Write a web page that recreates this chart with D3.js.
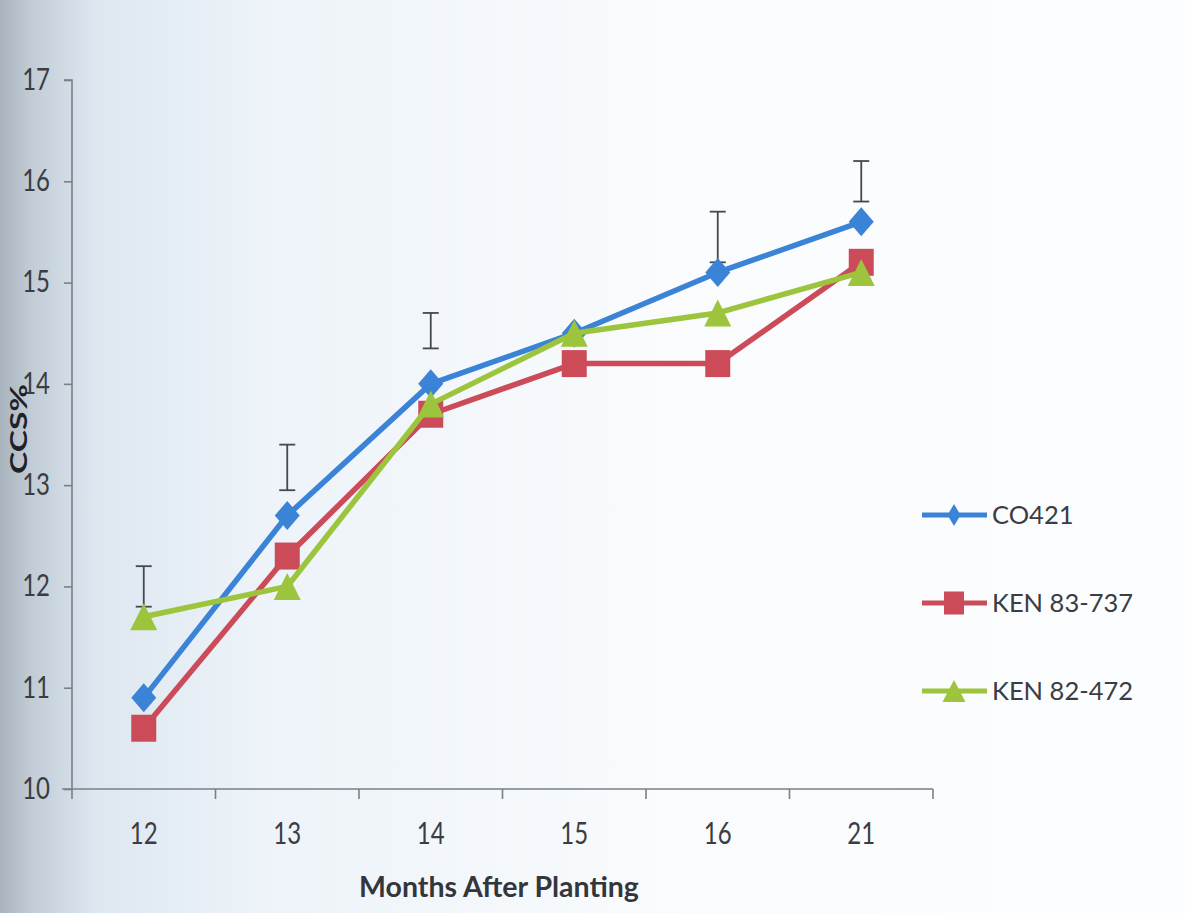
<!DOCTYPE html>
<html>
<head>
<meta charset="utf-8">
<script src="https://cdn.jsdelivr.net/npm/d3@7"></script>
<style>
  html, body { margin: 0; padding: 0; background: #fff; }
  svg { display: block; }
</style>
</head>
<body>
<svg id="chart" width="1185" height="913"></svg>
<script>
// Months after planting (categories on the x axis)
const months = ["12", "13", "14", "15", "16", "21"];
const yTicks = [10, 11, 12, 13, 14, 15, 16, 17];

// CCS% per variety
const seriesNames = ["CO421", "KEN 83-737", "KEN 82-472"];
const co421 = [10.9, 12.7, 14.0, 14.5, 15.1, 15.6];
const ken83737 = [10.6, 12.3, 13.7, 14.2, 14.2, 15.2];
const ken82472 = [11.7, 12.0, 13.8, 14.5, 14.7, 15.1];

// Error bars drawn above the curves (null = none)
const errHigh = [12.2, 13.4, 14.7, null, 15.7, 16.2];
const errLow  = [11.8, 12.95, 14.35, null, 15.2, 15.8];

const colors = ["#3b83d6", "#cc4b59", "#9cc43c"];
const values = [co421, ken83737, ken82472];

// marker outlines, slightly taller than wide
const markerPath = {
  diamond: (w, h) => `M0,${-h / 2}L${w / 2},0L0,${h / 2}L${-w / 2},0Z`,
  square: (w, h) => `M${-w / 2},${-h / 2}H${w / 2}V${h / 2}H${-w / 2}Z`,
  triangle: (w, h) => `M0,${-h / 2}L${w / 2},${h / 2}H${-w / 2}Z`
};
const markerKind = ["diamond", "square", "triangle"];
const markerW = [25, 25, 27];
const markerH = [29, 27, 27];
const legW = [13, 20, 23];
const legH = [22, 23, 22];

const svg = d3.select("#chart");
const W = 1185, H = 913;
const font = "Lato, 'Open Sans', sans-serif";
const stretch = 1.3;

// paper tint: darker toward the left edge
const defs = svg.append("defs");
const grad = defs.append("linearGradient").attr("id", "paper").attr("x1", 0).attr("x2", 1).attr("y1", 0).attr("y2", 0);
grad.append("stop").attr("offset", "0").attr("stop-color", "#a8b3bd");
grad.append("stop").attr("offset", "0.025").attr("stop-color", "#c0cbd5");
grad.append("stop").attr("offset", "0.08").attr("stop-color", "#dde7f0");
grad.append("stop").attr("offset", "0.22").attr("stop-color", "#edf3f9");
grad.append("stop").attr("offset", "0.55").attr("stop-color", "#f9fbfd");
grad.append("stop").attr("offset", "1").attr("stop-color", "#fcfdfe");
svg.append("rect").attr("width", W).attr("height", H).attr("fill", "url(#paper)");

const x0 = 72, x1 = 933, yTop = 80, yBot = 789;
const x = d3.scaleBand().domain(months).range([x0, x1]);
const y = d3.scaleLinear().domain([10, 17]).range([yBot, yTop]);
const cx = m => x(m) + x.bandwidth() / 2;
const axisCol = "#7a7f86";

// y axis
const yAxis = svg.append("g").attr("transform", `translate(${x0},0)`)
  .call(d3.axisLeft(y).tickValues(yTicks).tickSize(8).tickPadding(14).tickFormat(d3.format("d")));
yAxis.select(".domain").attr("stroke", axisCol).attr("stroke-width", 1.6).attr("d", `M-8,${yTop}H0V${yBot}`);
yAxis.selectAll(".tick line").attr("stroke", axisCol).attr("stroke-width", 1.6);
yAxis.selectAll(".tick text").attr("fill", "#3a3d42").style("font-family", font).style("font-size", "24px")
  .attr("dy", "0.3em").attr("transform", `scale(1,${stretch})`);

// x axis with ticks between categories
const xAxis = svg.append("g").attr("transform", `translate(0,${yBot})`)
  .call(d3.axisBottom(x).tickSize(0));
xAxis.select(".domain").attr("stroke", axisCol).attr("stroke-width", 1.6).attr("d", `M${x0 - 10},0H${x1}`);
xAxis.selectAll(".tick text").attr("fill", "#3a3d42").style("font-family", font).style("font-size", "24px")
  .attr("y", 55 / stretch).attr("dy", 0).attr("transform", `scale(1,${stretch})`);
const bounds = months.map(m => x(m)).concat([x1]);
svg.append("g").selectAll("line").data(bounds).join("line")
  .attr("x1", d => d).attr("x2", d => d).attr("y1", yBot).attr("y2", yBot + 10)
  .attr("stroke", axisCol).attr("stroke-width", 1.6);

// axis titles
svg.append("text").attr("x", 499).attr("y", 897).attr("text-anchor", "middle")
  .style("font-family", font).style("font-weight", "bold").style("font-size", "28.5px").attr("fill", "#33363a")
  .text("Months After Planting");
svg.append("text").attr("transform", "translate(27,429) rotate(-90)").attr("text-anchor", "middle")
  .attr("textLength", 90).attr("lengthAdjust", "spacingAndGlyphs")
  .style("font-family", font).style("font-weight", "bold").style("font-size", "22px").attr("fill", "#1f2124")
  .text("CCS%");

// error bars
const eb = svg.append("g").attr("stroke", "#45484d").attr("stroke-width", 1.8).attr("fill", "none");
months.forEach((m, i) => {
  if (errHigh[i] == null) return;
  const xc = cx(m);
  eb.append("line").attr("x1", xc).attr("x2", xc).attr("y1", y(errHigh[i])).attr("y2", y(errLow[i]));
  eb.append("line").attr("x1", xc - 8).attr("x2", xc + 8).attr("y1", y(errHigh[i])).attr("y2", y(errHigh[i]));
  eb.append("line").attr("x1", xc - 8).attr("x2", xc + 8).attr("y1", y(errLow[i])).attr("y2", y(errLow[i]));
});

// series lines and markers
const line = d3.line().x((d, i) => cx(months[i])).y(d => y(d));
values.forEach((vals, s) => {
  const g = svg.append("g");
  g.append("path").datum(vals).attr("d", line).attr("fill", "none")
    .attr("stroke", colors[s]).attr("stroke-width", 5.5).attr("stroke-linejoin", "round");
  g.selectAll("path.mk").data(vals).join("path").attr("class", "mk")
    .attr("transform", (d, i) => `translate(${cx(months[i])},${y(d)})`)
    .attr("d", markerPath[markerKind[s]](markerW[s], markerH[s]))
    .attr("fill", colors[s]);
});

// legend
const legY = [515, 603, 691];
seriesNames.forEach((name, s) => {
  const g = svg.append("g").attr("transform", `translate(0,${legY[s]})`);
  g.append("line").attr("x1", 922).attr("x2", 987).attr("y1", 0).attr("y2", 0)
    .attr("stroke", colors[s]).attr("stroke-width", 5);
  g.append("path").attr("transform", "translate(954,0)")
    .attr("d", markerPath[markerKind[s]](legW[s], legH[s])).attr("fill", colors[s]);
  g.append("text").attr("x", 992).attr("y", 9).style("font-family", font).style("font-size", "25.5px")
    .attr("fill", "#3a3d42").text(name);
});
</script>
</body>
</html>
